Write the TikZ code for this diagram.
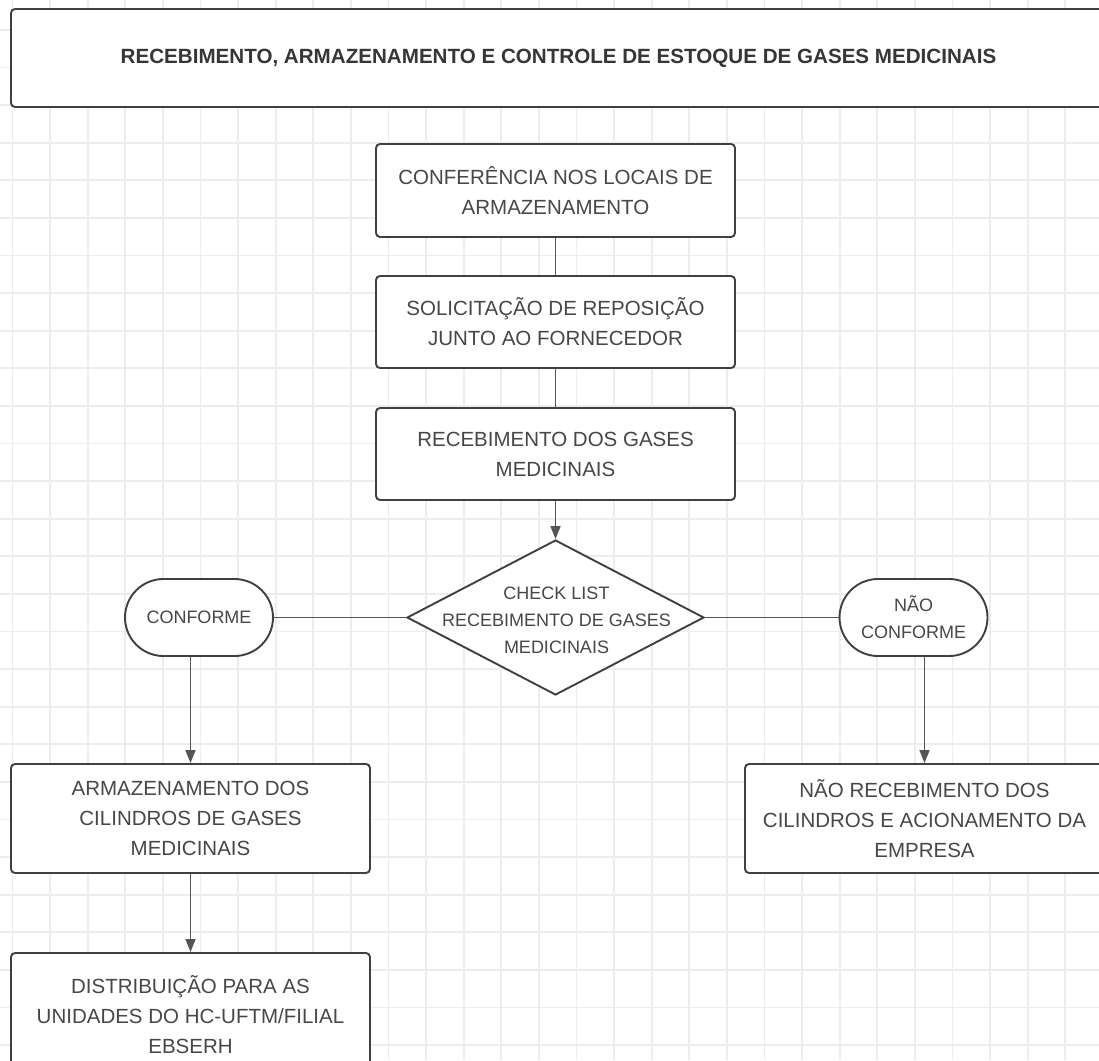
\documentclass[tikz,border=0pt]{standalone}
\usepackage{fontspec}
\setmainfont{Liberation Sans}
\usetikzlibrary{shapes.geometric,shapes.misc,arrows.meta}
\definecolor{gridc}{HTML}{EDEDED}
\definecolor{edgec}{HTML}{404040}
\definecolor{linec}{HTML}{555555}
\definecolor{txtc}{HTML}{474747}
\definecolor{titlec}{HTML}{363636}
\begin{document}
\begin{tikzpicture}[x=1pt,y=-1pt,
  gridline/.style={draw=gridc,line width=1.8pt},
  procbox/.style={draw=edgec,line width=1.9pt,fill=white,rounded corners=4pt,minimum width=359pt,inner sep=2pt,align=center,text=txtc,font=\fontsize{20.5}{30}\selectfont},
  termbox/.style={draw=edgec,line width=1.9pt,fill=white,rounded rectangle,minimum width=152pt,minimum height=77pt,inner sep=2pt,align=center,text=txtc,font=\fontsize{18}{27}\selectfont},
  decbox/.style={draw=edgec,line width=1.9pt,fill=white,diamond,minimum width=297pt,minimum height=155pt,inner sep=0pt},
  dectext/.style={align=center,text=txtc,font=\fontsize{18}{27}\selectfont,inner sep=0pt},
  titlebox/.style={draw=edgec,line width=1.9pt,fill=white,rounded corners=4pt,minimum width=1095pt,minimum height=98pt,align=center,text=titlec,font=\fontsize{20.6}{30}\selectfont\bfseries},
  conn/.style={draw=linec,line width=1.7pt},
  arr/.style={conn,-{Triangle[length=13pt,width=10pt]}}
]
\useasboundingbox (0,0) rectangle (1099,1060);
\clip (0,0) rectangle (1099,1060);
\fill[white] (0,0) rectangle (1099,1060);
% grid
\foreach \i in {0,...,29} {
  \draw[gridline] ({12.4+37.6*\i},0) -- ({12.4+37.6*\i},1060);
}
\foreach \j in {-1,...,28} {
  \draw[gridline] (0,{29.8+37.6*\j}) -- (1099,{29.8+37.6*\j});
}
% title
\node[titlebox] (title) at (558.5,58) {RECEBIMENTO, ARMAZENAMENTO E CONTROLE DE ESTOQUE DE GASES MEDICINAIS};
% process column
\node[procbox,minimum height=93pt] (b1) at (555.5,190.5) {CONFERÊNCIA NOS LOCAIS DE\\ARMAZENAMENTO};
\node[procbox,minimum height=92pt] (b2) at (555.5,322) {SOLICITAÇÃO DE REPOSIÇÃO\\JUNTO AO FORNECEDOR};
\node[procbox,minimum height=92pt] (b3) at (555.5,454) {RECEBIMENTO DOS GASES\\MEDICINAIS};
\node[decbox] (dia) at (555.5,617.5) {};
\node[dectext] (diat) at (556.5,620) {CHECK LIST\\RECEBIMENTO DE GASES\\MEDICINAIS};
\node[termbox] (conf) at (199,617.5) {CONFORME};
\node[termbox] (nconf) at (913.5,617.5) {NÃO\\CONFORME};
\node[procbox,minimum height=109pt] (arm) at (190.5,818.5) {ARMAZENAMENTO DOS\\CILINDROS DE GASES\\MEDICINAIS};
\node[procbox,minimum height=124pt] (dist) at (190.5,1015) {DISTRIBUIÇÃO PARA AS\\UNIDADES DO HC-UFTM/FILIAL\\EBSERH};
\node[procbox,minimum height=109pt] (nrec) at (924.5,818.5) {NÃO RECEBIMENTO DOS\\CILINDROS E ACIONAMENTO DA\\EMPRESA};
% connectors
\draw[conn] (b1.south) -- (b2.north);
\draw[conn] (b2.south) -- (b3.north);
\draw[arr] (b3.south) -- (dia.north);
\draw[conn] (dia.west) -- (conf.east);
\draw[conn] (dia.east) -- (nconf.west);
\draw[arr] (arm.north |- conf.south) -- (arm.north);
\draw[arr] (arm.south) -- (dist.north);
\draw[arr] (nrec.north |- nconf.south) -- (nrec.north);
\end{tikzpicture}
\end{document}
